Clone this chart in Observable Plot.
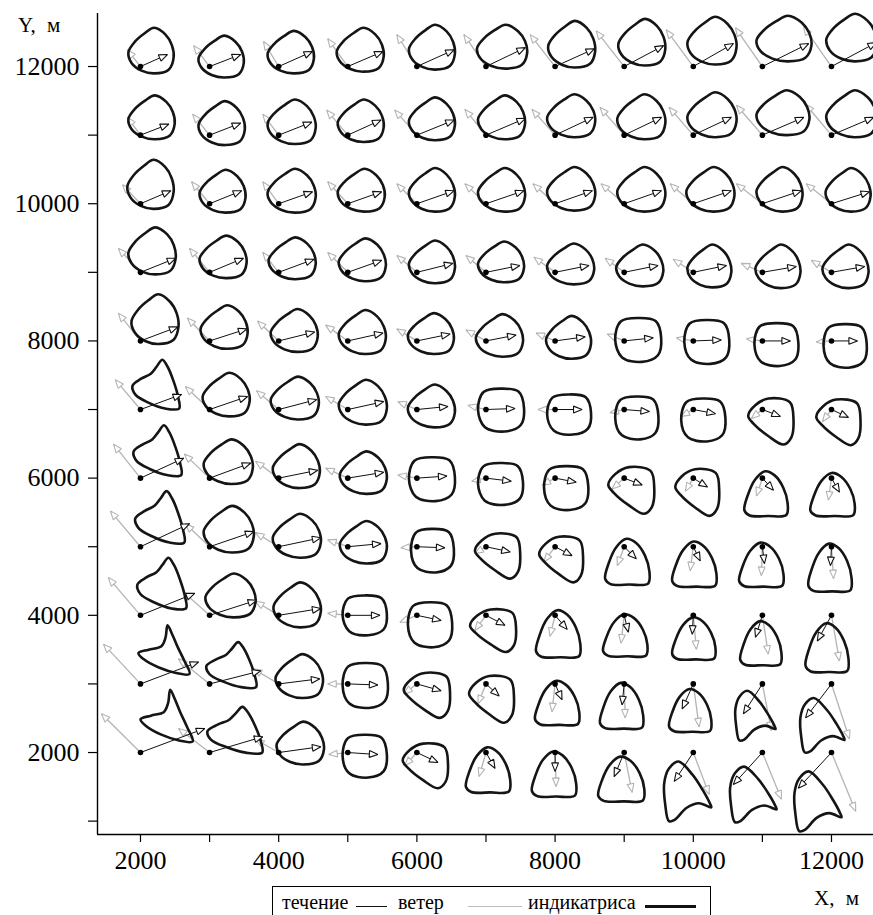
<!DOCTYPE html>
<html><head><meta charset="utf-8">
<script src="https://cdn.jsdelivr.net/npm/d3@7"></script>
<script src="https://cdn.jsdelivr.net/npm/@observablehq/plot@0.6"></script>
<style>
body{margin:0;background:#fff;}
#wrap{position:relative;width:873px;height:915px;overflow:hidden;font-family:"Liberation Serif","Times New Roman",serif;color:#000;}
#wrap svg{position:absolute;left:0;top:0;}
#wrap svg text{font-family:"Liberation Serif","Times New Roman",serif;}
.t{position:absolute;white-space:nowrap;line-height:1;font-family:"Liberation Serif","Times New Roman",serif;}
.ln{position:absolute;}
</style></head><body><div id="wrap"></div>
<script>
// ---- data (metres) ----
const xValues = [2000,3000,4000,5000,6000,7000,8000,9000,10000,11000,12000];
const yValues = [12000,11000,10000,9000,8000,7000,6000,5000,4000,3000,2000];
const xTicks = [2000,3000,4000,5000,6000,7000,8000,9000,10000,11000,12000];
const yTicks = [1000,2000,3000,4000,5000,6000,7000,8000,9000,10000,11000,12000];
const xDomain = [1378, 12608];
const yDomain = [805, 12773];

// current (течение) vector components, rows = yValues, cols = xValues
const curU = [
 [390,450,490,510,540,570,570,570,580,670,650],
 [410,450,480,480,540,570,550,540,550,600,610],
 [440,465,490,490,540,550,540,540,550,565,550],
 [510,490,510,490,520,490,490,490,480,490,480],
 [540,540,520,510,480,435,435,420,405,405,375],
 [595,550,550,520,450,420,390,365,320,260,245],
 [625,595,565,520,435,365,305,260,205,160,115],
 [710,640,610,480,405,350,245,175,100,30,-15],
 [785,680,610,465,350,275,175,60,-15,-100,-205],
 [840,740,595,435,350,190,100,-30,-160,-275,-375],
 [930,770,610,435,305,130,0,-145,-275,-420,-480]
];
const curV = [
 [175,175,220,220,245,275,260,305,335,335,350],
 [160,175,190,220,220,245,260,260,260,260,260],
 [190,190,175,175,190,190,190,190,190,190,175],
 [205,205,190,175,130,100,100,100,100,85,85],
 [205,175,130,115,100,85,60,45,15,0,0],
 [220,190,145,115,45,15,0,-30,-60,-100,-115],
 [290,220,115,85,30,-45,-60,-100,-130,-175,-205],
 [335,220,130,45,-15,-75,-130,-175,-205,-245,-275],
 [320,220,100,0,-75,-145,-205,-245,-275,-320,-375],
 [320,190,75,-15,-100,-175,-230,-305,-365,-435,-495],
 [350,230,85,-30,-145,-230,-275,-350,-420,-465,-520]
];
// wind (ветер) vector components
const windU = [
 [-190,-230,-220,-290,-290,-320,-360,-405,-390,-390,-405],
 [-190,-245,-230,-305,-320,-305,-335,-350,-350,-375,-375],
 [-260,-260,-230,-290,-290,-305,-320,-335,-335,-375,-365],
 [-320,-290,-230,-290,-290,-290,-305,-275,-290,-305,-290],
 [-320,-320,-305,-320,-290,-290,-275,-245,-245,-230,-220],
 [-365,-350,-320,-320,-275,-260,-245,-205,-175,-160,-130],
 [-390,-365,-335,-320,-275,-205,-190,-175,-115,-85,-45],
 [-435,-350,-335,-290,-230,-160,-160,-100,-45,-15,30],
 [-465,-375,-335,-290,-245,-160,-75,-45,45,85,115],
 [-535,-450,-365,-290,-190,-115,-45,15,85,130,260],
 [-565,-450,-335,-275,-175,-100,15,115,230,275,350]
];
const windV = [
 [245,305,365,405,465,465,465,520,535,565,580],
 [260,305,305,365,365,375,375,405,405,435,450],
 [275,320,320,320,290,290,290,290,290,290,290],
 [350,350,290,290,245,245,220,205,190,130,175],
 [405,335,290,230,175,160,115,100,45,30,-15],
 [435,335,275,190,115,60,0,-45,-100,-130,-175],
 [495,350,245,145,45,-45,-100,-160,-190,-260,-320],
 [520,335,205,100,-15,-100,-220,-275,-350,-420,-465],
 [550,335,205,30,-100,-220,-305,-405,-495,-565,-665],
 [580,365,220,0,-145,-290,-405,-495,-625,-680,-800],
 [565,350,190,-30,-190,-350,-495,-580,-610,-680,-855]
];
// indicatrix (индикатриса): outline family and extent relative to the grid point
const indType = [
 "TTTTTTTTTTT","TTTTTTTTTTT","TTTTTTTTTTT","TTTTTTTTTTT",
 "TTTTTTTRRRR","FTTTTRRRRDD","FTTTRRRDDBB","FTTTRDDBBBB",
 "FTTRRDBBBBB","SFTRDDBBBCC","SFTRDBBBCCC"
];
const indL = [
 [-175,-160,-160,-160,-115,-130,-100,-85,-85,-85,-75],
 [-175,-160,-160,-145,-115,-115,-115,-100,-85,-85,-75],
 [-190,-145,-160,-145,-115,-115,-115,-100,-100,-85,-85],
 [-175,-145,-145,-130,-115,-115,-115,-115,-85,-100,-130],
 [-130,-130,-115,-130,-130,-145,-130,-130,-130,-115,-115],
 [-115,-100,-115,-130,-130,-115,-115,-130,-175,-205,-220],
 [-100,-85,-85,-115,-115,-115,-160,-230,-260,-260,-305],
 [-75,-85,-85,-115,-85,-160,-230,-275,-305,-335,-335],
 [-45,-60,-75,-75,-130,-230,-275,-305,-305,-320,-375],
 [-30,-45,-45,-75,-190,-245,-290,-350,-350,-390,-450],
 [0,-30,-30,-75,-205,-290,-335,-375,-420,-465,-535]
];
const indR = [
 [480,495,510,520,550,595,580,595,625,710,655],
 [495,510,535,520,550,565,580,595,625,680,655],
 [480,520,535,535,550,565,580,595,595,580,565],
 [510,535,535,550,550,550,565,565,550,550,535],
 [550,550,565,550,535,535,520,535,520,520,510],
 [580,580,580,565,550,550,520,495,465,450,420],
 [610,625,595,565,550,535,480,435,375,365,335],
 [655,640,610,565,535,495,405,365,335,305,290],
 [680,665,610,565,510,435,365,335,320,275,245],
 [710,695,640,580,480,405,350,275,260,190,190],
 [755,785,655,565,450,350,305,290,260,205,145]
];
const indT = [
 [565,450,520,565,610,610,665,695,725,740,770],
 [580,495,520,520,550,580,595,595,625,655,655],
 [640,495,510,510,520,520,535,535,535,535,520],
 [655,535,510,495,465,450,420,405,405,405,405],
 [680,520,465,450,405,390,365,335,305,260,245],
 [725,535,480,435,365,305,220,190,160,160,145],
 [770,565,495,390,305,220,175,160,130,100,75],
 [810,595,480,375,260,190,145,115,75,60,45],
 [840,610,480,290,190,85,75,15,-30,-85,-115],
 [855,610,435,305,160,115,45,15,-75,-100,-205],
 [915,665,450,260,130,75,15,-60,-130,-205,-275]
];
const indB = [
 [-100,-160,-100,-75,-45,-30,-15,15,30,75,75],
 [-60,-145,-130,-100,-75,-60,-30,-60,-30,0,-30],
 [-75,-130,-130,-115,-115,-115,-100,-115,-115,-115,-115],
 [-30,-85,-100,-130,-160,-145,-175,-205,-220,-230,-230],
 [-45,-115,-160,-190,-190,-230,-260,-305,-335,-365,-390],
 [0,-100,-145,-220,-260,-320,-365,-435,-465,-510,-520],
 [30,-85,-145,-230,-335,-390,-465,-520,-550,-565,-565],
 [45,-85,-160,-245,-375,-465,-520,-565,-595,-595,-665],
 [85,-30,-175,-290,-465,-535,-625,-610,-655,-740,-840],
 [130,-60,-205,-350,-495,-565,-610,-665,-710,-825,-1000],
 [145,-15,-175,-365,-520,-595,-655,-725,-1000,-1015,-1145]
];
// outline families: [fraction across, fraction down]
const shapes = {
 T: [[0.57,0],[0.36,0.12],[0.14,0.31],[0,0.54],[0.07,0.77],[0.29,0.94],[0.57,1],[0.89,0.92],[1,0.65],[0.96,0.38],[0.82,0.15]],
 F: [[0.62,0],[0.5,0.14],[0.38,0.28],[0.18,0.38],[0,0.52],[0.06,0.7],[0.33,0.86],[0.68,0.98],[0.97,0.98],[0.95,0.75],[0.85,0.42],[0.73,0.14]],
 S: [[0.57,0],[0.53,0.25],[0.45,0.42],[0.2,0.49],[0,0.56],[0.1,0.68],[0.4,0.85],[0.74,0.96],[1,0.98],[0.9,0.72],[0.76,0.42],[0.66,0.18]],
 R: [[0.12,0.08],[0.5,0],[0.88,0.07],[1,0.45],[0.93,0.85],[0.58,1],[0.15,0.9],[0,0.5]],
 D: [[0.45,0],[0.92,0.08],[1,0.45],[0.95,0.85],[0.78,1],[0.45,0.82],[0.12,0.55],[0,0.38],[0.15,0.15]],
 B: [[0.48,0],[0.25,0.18],[0.08,0.52],[0,0.86],[0.12,0.97],[0.55,0.98],[0.97,0.96],[1,0.7],[0.9,0.36],[0.7,0.09]],
 C: [[0.3,0],[0.6,0.22],[0.82,0.48],[0.97,0.7],[1,0.77],[0.74,0.7],[0.47,0.78],[0.22,0.98],[0.1,1],[0.02,0.72],[0,0.36],[0.1,0.12]]
};

// ---- build tables ----
const cells = [];
const outline = [];
yValues.forEach((gy, i) => xValues.forEach((gx, j) => {
  const id = i * xValues.length + j;
  cells.push({gx, gy, cx: gx + curU[i][j], cy: gy + curV[i][j], wx: gx + windU[i][j], wy: gy + windV[i][j]});
  const L = indL[i][j], R = indR[i][j], T = indT[i][j], B = indB[i][j];
  for (const [u, w] of shapes[indType[i][j]]) {
    outline.push({id, x: gx + L + u * (R - L), y: gy + T - w * (T - B)});
  }
}));

function hollowHead(color, context) {
  const doc = (context && context.document) || document;
  const ns = "http://www.w3.org/2000/svg";
  const m = doc.createElementNS(ns, "marker");
  m.setAttribute("viewBox", "-10 -5 12 10");
  m.setAttribute("markerWidth", 12);
  m.setAttribute("markerHeight", 10);
  m.setAttribute("markerUnits", "userSpaceOnUse");
  m.setAttribute("orient", "auto");
  m.setAttribute("overflow", "visible");
  const p = doc.createElementNS(ns, "path");
  p.setAttribute("d", "M-8.5,-3.4L0,0L-8.5,3.4Z");
  p.setAttribute("fill", "#fff");
  p.setAttribute("stroke", color);
  p.setAttribute("stroke-width", 1.1);
  p.setAttribute("stroke-linejoin", "miter");
  m.appendChild(p);
  return m;
}

const fmt = d => (d % 2000 === 0 ? String(d) : "");
const serif = '"Liberation Serif", "Times New Roman", serif';

function build(marker) {
  return Plot.plot({
    width: 873, height: 915,
    marginLeft: 97, marginRight: 0, marginTop: 13, marginBottom: 81,
    style: {fontFamily: serif, fontSize: "26px", background: "transparent", color: "#000"},
    x: {domain: xDomain, label: null},
    y: {domain: yDomain, label: null},
    marks: [
      Plot.axisX(xTicks, {tickSize: 8, tickPadding: 8, tickFormat: fmt, label: null, stroke: "#000", strokeWidth: 1.2, fontFamily: serif, fontSize: 26, fontWeight: "normal"}),
      Plot.axisY(yTicks, {tickSize: 9, tickPadding: 9, tickFormat: fmt, label: null, stroke: "#000", strokeWidth: 1.2, fontFamily: serif, fontSize: 26, fontWeight: "normal"}),
      Plot.ruleX([xDomain[0]], {stroke: "#000", strokeWidth: 1.4}),
      Plot.ruleY([yDomain[0]], {stroke: "#000", strokeWidth: 1.4}),
      Plot.link(cells, {x1: "gx", y1: "gy", x2: "wx", y2: "wy", stroke: "#b4b4b4", strokeWidth: 1.3, markerEnd: marker}),
      Plot.line(outline, {x: "x", y: "y", z: "id", curve: "catmull-rom-closed", stroke: "#151515", strokeWidth: 2.6, strokeLinejoin: "round"}),
      Plot.link(cells, {x1: "gx", y1: "gy", x2: "cx", y2: "cy", stroke: "#111", strokeWidth: 1, markerEnd: marker}),
      Plot.dot(cells, {x: "gx", y: "gy", r: 2.8, fill: "#000", stroke: "none"})
    ]
  });
}

let svg;
try { svg = build(hollowHead); } catch (e) { svg = build("arrow"); }
const wrap = document.getElementById("wrap");
wrap.appendChild(svg);

function addText(txt, left, top, size) {
  const d = document.createElement("div");
  d.className = "t"; d.textContent = txt;
  d.style.left = left + "px"; d.style.top = top + "px"; d.style.fontSize = size + "px";
  wrap.appendChild(d); return d;
}
function addLine(left, top, w, h, color) {
  const d = document.createElement("div");
  d.className = "ln";
  Object.assign(d.style, {left: left + "px", top: top + "px", width: w + "px", height: h + "px", background: color});
  wrap.appendChild(d);
}
const yl = addText("Y, м", 18, 15, 21); yl.style.wordSpacing = "6px";
const xl = addText("X, м", 814, 888, 21); xl.style.wordSpacing = "6px";

// legend box
const box = document.createElement("div");
Object.assign(box.style, {position: "absolute", left: "272px", top: "886px", width: "437px", height: "40px", border: "1.5px solid #000", background: "#fff"});
wrap.appendChild(box);
addText("течение", 282, 892, 20);
addLine(356, 906, 31, 1.2, "#111");
addText("ветер", 398, 892, 20);
addLine(468, 906, 54, 1.2, "#bdbdbd");
addText("индикатриса", 528, 892, 20);
addLine(645, 905, 51, 3, "#111");
</script></body></html>
